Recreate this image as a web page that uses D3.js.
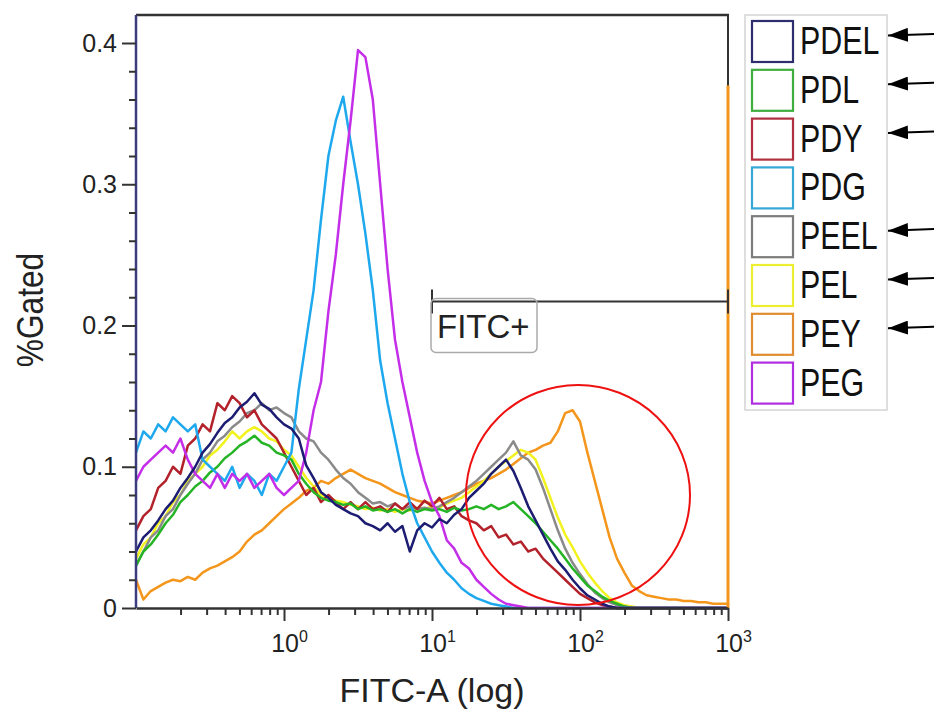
<!DOCTYPE html>
<html><head><meta charset="utf-8">
<script src="https://cdn.jsdelivr.net/npm/d3@7/dist/d3.min.js"></script>
<style>html,body{margin:0;padding:0;background:#fff;} svg{display:block;font-family:"Liberation Sans",Arial,sans-serif;}</style>
</head><body><svg id="chart" width="934" height="712"></svg>
<script>
// ---- data ----
const binLog10 = [-1.00,-0.95,-0.90,-0.85,-0.80,-0.75,-0.70,-0.65,-0.60,-0.55,
  -0.50,-0.45,-0.40,-0.35,-0.30,-0.25,-0.20,-0.15,-0.10,-0.05,
  0.00,0.05,0.10,0.15,0.20,0.25,0.30,0.35,0.40,0.45,
  0.50,0.55,0.60,0.65,0.70,0.75,0.80,0.85,0.90,0.95,
  1.00,1.05,1.10,1.15,1.20,1.25,1.30,1.35,1.40,1.45,
  1.50,1.55,1.60,1.65,1.70,1.75,1.80,1.85,1.90,1.95,
  2.00,2.05,2.10,2.15,2.20,2.25,2.30,2.35,2.40,2.45,
  2.50,2.55,2.60,2.65,2.70,2.75,2.80,2.85,2.90,2.95,
  3.00];

const PDEL = [0.040,0.050,0.055,0.062,0.070,0.076,0.085,0.092,0.100,0.110,
  0.116,0.124,0.131,0.135,0.142,0.146,0.152,0.144,0.141,0.135,
  0.130,0.127,0.120,0.101,0.092,0.082,0.078,0.073,0.070,0.067,
  0.065,0.060,0.058,0.055,0.060,0.054,0.058,0.040,0.055,0.060,
  0.057,0.063,0.060,0.066,0.070,0.078,0.083,0.088,0.095,0.100,
  0.105,0.097,0.085,0.072,0.062,0.052,0.042,0.033,0.027,0.020,
  0.014,0.009,0.006,0.003,0.001,0,0,0,0,0,
  0,0,0,0,0,0,0,0,0,0,
  0];
const PDL = [0.030,0.040,0.045,0.052,0.060,0.066,0.075,0.080,0.086,0.090,
  0.096,0.100,0.106,0.110,0.115,0.118,0.122,0.117,0.115,0.110,
  0.108,0.105,0.095,0.088,0.082,0.078,0.076,0.075,0.073,0.074,
  0.070,0.072,0.069,0.070,0.068,0.070,0.067,0.070,0.068,0.070,
  0.069,0.070,0.068,0.071,0.069,0.070,0.072,0.070,0.073,0.070,
  0.072,0.075,0.070,0.065,0.060,0.054,0.048,0.042,0.035,0.028,
  0.022,0.016,0.012,0.008,0.005,0.003,0.001,0,0,0,
  0,0,0,0,0,0,0,0,0,0,
  0];
const PDY = [0.055,0.065,0.070,0.085,0.090,0.100,0.095,0.115,0.120,0.130,
  0.125,0.145,0.140,0.150,0.145,0.135,0.140,0.130,0.125,0.120,
  0.110,0.100,0.090,0.080,0.085,0.075,0.080,0.075,0.070,0.075,
  0.070,0.075,0.070,0.072,0.068,0.074,0.070,0.075,0.070,0.076,
  0.072,0.078,0.070,0.072,0.065,0.062,0.060,0.055,0.058,0.050,
  0.052,0.045,0.047,0.040,0.042,0.035,0.030,0.025,0.020,0.015,
  0.010,0.007,0.004,0.002,0.001,0,0,0,0,0,
  0,0,0,0,0,0,0,0,0,0,
  0];
const PDG = [0.110,0.125,0.120,0.130,0.125,0.135,0.130,0.125,0.130,0.105,
  0.100,0.095,0.090,0.100,0.085,0.095,0.090,0.080,0.095,0.090,
  0.100,0.110,0.155,0.190,0.225,0.275,0.320,0.345,0.362,0.330,
  0.300,0.265,0.225,0.175,0.145,0.120,0.095,0.075,0.060,0.050,
  0.040,0.032,0.025,0.020,0.014,0.010,0.007,0.005,0.003,0.002,
  0.001,0,0,0,0,0,0,0,0,0,
  0,0,0,0,0,0,0,0,0,0,
  0,0,0,0,0,0,0,0,0,0,
  0];
const PEEL = [0.030,0.040,0.050,0.055,0.065,0.070,0.080,0.088,0.095,0.105,
  0.110,0.118,0.122,0.128,0.132,0.138,0.140,0.145,0.140,0.142,
  0.138,0.135,0.125,0.120,0.118,0.110,0.105,0.098,0.092,0.088,
  0.082,0.078,0.074,0.075,0.072,0.074,0.070,0.072,0.070,0.071,
  0.070,0.072,0.075,0.078,0.082,0.086,0.090,0.095,0.100,0.105,
  0.110,0.118,0.108,0.105,0.098,0.085,0.070,0.055,0.042,0.032,
  0.024,0.017,0.011,0.007,0.004,0.002,0.001,0,0,0,
  0,0,0,0,0,0,0,0,0,0,
  0];
const PEL = [0.035,0.045,0.050,0.060,0.065,0.075,0.080,0.090,0.095,0.100,
  0.108,0.112,0.118,0.125,0.120,0.125,0.128,0.125,0.120,0.118,
  0.112,0.108,0.100,0.092,0.086,0.080,0.078,0.076,0.075,0.073,
  0.072,0.070,0.071,0.069,0.070,0.068,0.070,0.069,0.071,0.070,
  0.072,0.071,0.074,0.076,0.078,0.082,0.086,0.090,0.095,0.100,
  0.104,0.108,0.112,0.110,0.105,0.092,0.078,0.064,0.052,0.043,
  0.033,0.025,0.018,0.012,0.007,0.004,0.002,0.001,0,0,
  0,0,0,0,0,0,0,0,0,0,
  0];
const PEY = [0.020,0.006,0.012,0.015,0.018,0.020,0.019,0.022,0.020,0.025,
  0.028,0.030,0.033,0.036,0.040,0.047,0.052,0.055,0.060,0.065,
  0.070,0.074,0.078,0.083,0.085,0.090,0.088,0.092,0.095,0.098,
  0.095,0.092,0.090,0.088,0.085,0.082,0.080,0.078,0.076,0.075,
  0.074,0.076,0.078,0.080,0.082,0.085,0.088,0.090,0.092,0.095,
  0.098,0.102,0.106,0.110,0.112,0.115,0.117,0.125,0.138,0.140,
  0.132,0.110,0.090,0.070,0.050,0.035,0.025,0.016,0.012,0.009,
  0.008,0.007,0.006,0.006,0.005,0.005,0.004,0.004,0.003,0.003,
  0.003];
const PEG = [0.090,0.100,0.105,0.110,0.115,0.110,0.120,0.105,0.095,0.090,
  0.085,0.095,0.085,0.095,0.090,0.095,0.085,0.090,0.095,0.085,
  0.080,0.085,0.090,0.110,0.140,0.160,0.210,0.250,0.300,0.345,
  0.395,0.390,0.360,0.300,0.240,0.190,0.160,0.135,0.110,0.090,
  0.075,0.065,0.048,0.042,0.032,0.028,0.020,0.015,0.010,0.006,
  0.003,0.002,0.001,0,0,0,0,0,0,0,
  0,0,0,0,0,0,0,0,0,0,
  0,0,0,0,0,0,0,0,0,0,
  0];
const peyOffScaleValue = 0.37;   // pile-up in the last channel (10^3)
const peyOffScaleAt = 1000;

const seriesNames  = ["PDEL","PDL","PDY","PDG","PEEL","PEL","PEY","PEG"];
const seriesValues = [PDEL, PDL, PDY, PDG, PEEL, PEL, PEY, PEG];
const seriesColors = ["#1c1c72","#25b425","#b3212b","#1ea8ee","#8a8a8a","#f2f21e","#f4961c","#c42ee8"];
const legendColors = ["#2e2e6e","#3fae3f","#b03040","#35a8d6","#7c7c7c","#eeee30","#e08c30","#b02ee0"];
const drawOrder    = ["PEY","PEL","PEEL","PDY","PDL","PDG","PEG","PDEL"];
const arrowTargets = ["PDEL","PDL","PDY","PEEL","PEL","PEY"];

const yMajorTicks = [0, 0.1, 0.2, 0.3, 0.4];
const yTickLabels = ["0", "0.1", "0.2", "0.3", "0.4"];
const yMinorTicks = [0.02,0.04,0.06,0.08,0.12,0.14,0.16,0.18,0.22,0.24,0.26,0.28,0.32,0.34,0.36,0.38];
const xMajorTicks = [1, 10, 100, 1000];
const xTickExponents = ["0", "1", "2", "3"];
const xTitle = "FITC-A (log)";
const yTitle = "%Gated";

const gateLabel = "FITC+";
const gateRange = [10, 1000];
const gateLevel = 0.217;
const highlightCenter = [100, 0.08];

// ---- layout ----
const svg = d3.select("#chart");
const pL = 136, pR = 728, pT = 15, pB = 608;
const x = d3.scaleLog().domain([0.1, 1000]).range([pL, pR]);
const y = d3.scaleLinear().domain([0, 0.42]).range([pB, 14.75]);

function condense(sel, f) {
  sel.each(function () {
    const w = this.getComputedTextLength();
    d3.select(this).attr("textLength", w * f).attr("lengthAdjust", "spacingAndGlyphs");
  });
}

// frame top & right
svg.append("line").attr("x1", pL).attr("x2", pR + 1).attr("y1", pT).attr("y2", pT)
  .attr("stroke", "#333").attr("stroke-width", 2.5);
svg.append("line").attr("x1", pR).attr("x2", pR).attr("y1", pT).attr("y2", pB)
  .attr("stroke", "#333").attr("stroke-width", 2);

// curves
const line = d3.line()
  .x((d, i) => x(Math.pow(10, binLog10[i])))
  .y(d => y(d));
const gCurves = svg.append("g");
drawOrder.forEach(name => {
  const k = seriesNames.indexOf(name);
  gCurves.append("path").datum(seriesValues[k])
    .attr("d", line).attr("fill", "none")
    .attr("stroke", seriesColors[k]).attr("stroke-width", 2.5)
    .attr("stroke-linejoin", "round");
});
// PEY pile-up at the last channel
const peyIdx = seriesNames.indexOf("PEY");
svg.append("line")
  .attr("x1", x(peyOffScaleAt)).attr("x2", x(peyOffScaleAt))
  .attr("y1", y(0)).attr("y2", y(peyOffScaleValue))
  .attr("stroke", seriesColors[peyIdx]).attr("stroke-width", 3);

// y axis
const yAxisG = svg.append("g").attr("transform", `translate(${pL},0)`);
yAxisG.call(d3.axisLeft(y).tickValues(yMajorTicks).tickSize(14).tickPadding(5)
  .tickSizeOuter(0).tickFormat((d, i) => yTickLabels[i]));
yAxisG.select(".domain").attr("stroke", "#3c3c80").attr("stroke-width", 2.5)
  .attr("d", `M0,${pT}V${pB}`);
yAxisG.selectAll(".tick line").attr("stroke", "#333").attr("stroke-width", 2);
yAxisG.selectAll(".tick text").attr("font-size", 25).attr("fill", "#222")
  .attr("font-family", "Liberation Sans, Arial, sans-serif");
const yMinorG = svg.append("g").attr("transform", `translate(${pL},0)`);
yMinorG.call(d3.axisLeft(y).tickValues(yMinorTicks).tickSize(7).tickFormat(""));
yMinorG.select(".domain").remove();
yMinorG.selectAll(".tick line").attr("stroke", "#333").attr("stroke-width", 2);

// x axis
const xAxisG = svg.append("g").attr("transform", `translate(0,${pB})`);
xAxisG.call(d3.axisBottom(x).tickValues(xMajorTicks).tickSize(13).tickSizeOuter(0).tickFormat(""));
xAxisG.select(".domain").attr("stroke", "#333").attr("stroke-width", 2.5);
xAxisG.selectAll(".tick line").attr("stroke", "#333").attr("stroke-width", 2);
xAxisG.selectAll(".tick").each(function (d, i) {
  const t = d3.select(this).append("text").attr("y", 44).attr("x", 5)
    .attr("text-anchor", "middle").attr("fill", "#222").attr("font-size", 25)
    .attr("font-family", "Liberation Sans, Arial, sans-serif");
  t.append("tspan").text("10");
  t.append("tspan").attr("dy", -10).attr("font-size", 16).text(xTickExponents[i]);
});
const xMinor = x.ticks().filter(v => v > 0.1 && !xMajorTicks.includes(v));
const xMinorG = svg.append("g").attr("transform", `translate(0,${pB})`);
xMinorG.call(d3.axisBottom(x).tickValues(xMinor).tickSize(7).tickFormat(""));
xMinorG.select(".domain").remove();
xMinorG.selectAll(".tick line").attr("stroke", "#333").attr("stroke-width", 2);

// axis titles
svg.append("text").attr("x", (pL + pR) / 2).attr("y", 702)
  .attr("text-anchor", "middle").attr("font-size", 34).attr("fill", "#222").text(xTitle);
svg.append("text").attr("transform", "translate(43,310) rotate(-90)")
  .attr("text-anchor", "middle").attr("font-size", 36).attr("fill", "#222").text(yTitle)
  .call(condense, 0.88);

// gate
const gy = y(gateLevel);
svg.append("line").attr("x1", x(gateRange[0])).attr("x2", x(gateRange[1]))
  .attr("y1", gy).attr("y2", gy).attr("stroke", "#333").attr("stroke-width", 2);
gateRange.forEach(v => {
  svg.append("line").attr("x1", x(v)).attr("x2", x(v)).attr("y1", gy - 12).attr("y2", gy + 12)
    .attr("stroke", "#333").attr("stroke-width", 2);
});
svg.append("rect").attr("x", x(gateRange[0]) - 1).attr("y", gy - 3).attr("width", 106).attr("height", 54)
  .attr("rx", 5).attr("fill", "none").attr("stroke", "#aaa").attr("stroke-width", 1.5);
svg.append("text").attr("x", x(gateRange[0]) + 5).attr("y", gy + 37)
  .attr("font-size", 33).attr("fill", "#222").text(gateLabel);

// highlight circle
svg.append("ellipse").attr("cx", x(highlightCenter[0]) - 2).attr("cy", y(highlightCenter[1]))
  .attr("rx", 112).attr("ry", 110).attr("fill", "none").attr("stroke", "#ee1111").attr("stroke-width", 2);

// legend
const lgTop = 21, lgStep = 48.8;
svg.append("rect").attr("x", 745).attr("y", 15).attr("width", 142).attr("height", 395)
  .attr("fill", "none").attr("stroke", "#d4d4d4").attr("stroke-width", 1.5);
seriesNames.forEach((name, i) => {
  const ty = lgTop + i * lgStep;
  svg.append("rect").attr("x", 752).attr("y", ty).attr("width", 41).attr("height", 41)
    .attr("fill", "#fff").attr("stroke", legendColors[i]).attr("stroke-width", 2.2);
  svg.append("text").attr("x", 800).attr("y", ty + 33).attr("font-size", 38).attr("fill", "#111")
    .text(name).call(condense, 0.8);
});

// arrows
const defs = svg.append("defs");
defs.append("marker").attr("id", "ah").attr("viewBox", "0 0 20 14").attr("refX", 0).attr("refY", 7)
  .attr("markerWidth", 20).attr("markerHeight", 14).attr("markerUnits", "userSpaceOnUse")
  .attr("orient", "auto")
  .append("path").attr("d", "M0,7L20,0L20,14Z").attr("fill", "#000");
arrowTargets.forEach(name => {
  const i = seriesNames.indexOf(name);
  const cy = lgTop + i * lgStep + 20.5 - 6;
  svg.append("line").attr("x1", 888).attr("x2", 945).attr("y1", cy).attr("y2", cy - 2)
    .attr("stroke", "#000").attr("stroke-width", 2).attr("marker-start", "url(#ah)");
});
</script></body></html>
